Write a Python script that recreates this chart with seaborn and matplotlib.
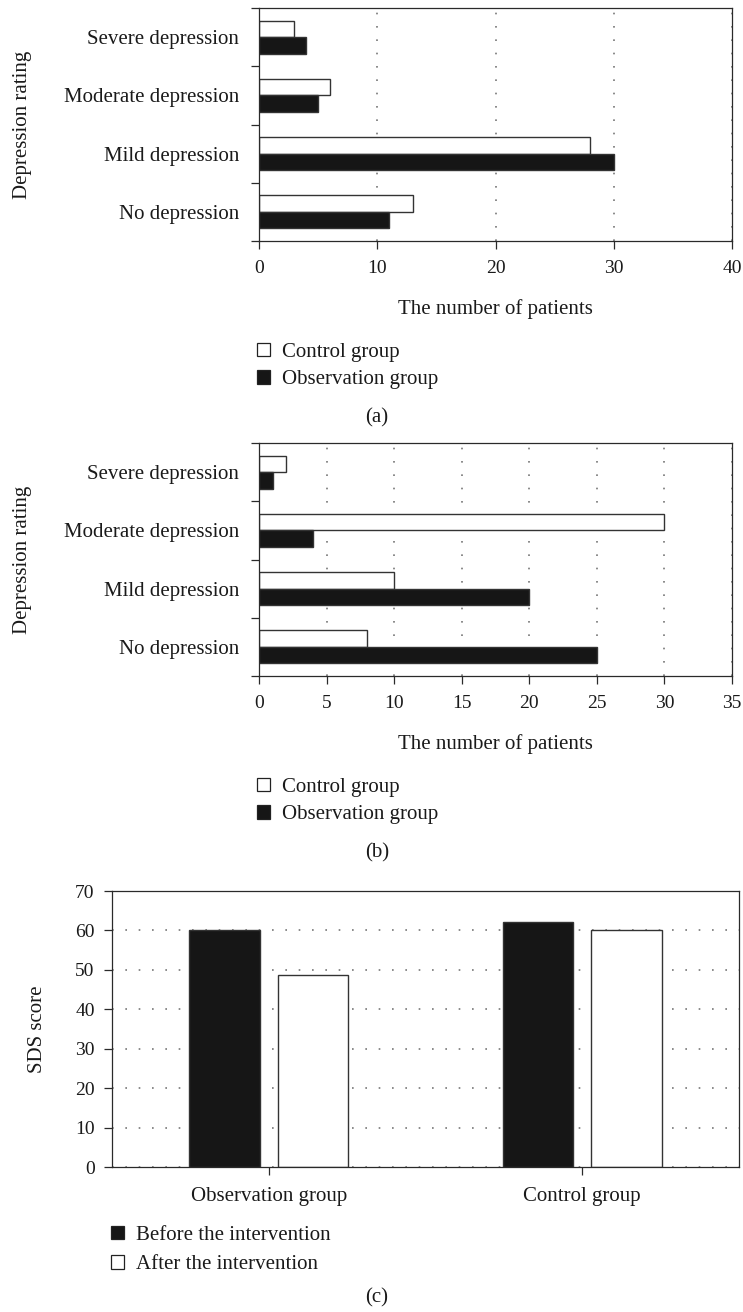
import matplotlib
matplotlib.use('Agg')
import matplotlib.pyplot as plt
from matplotlib.patches import Patch
import pandas as pd
import seaborn as sns

# categories and values
ratings = ['Severe depression', 'Moderate depression', 'Mild depression', 'No depression']
groups = ['Control group', 'Observation group']

a_control = [3, 6, 28, 13]
a_observation = [4, 5, 30, 11]

b_control = [2, 30, 10, 8]
b_observation = [1, 4, 20, 25]

c_groups = ['Observation group', 'Control group']
c_phases = ['Before the intervention', 'After the intervention']
c_before = [60.2, 62.2]
c_after = [48.8, 60.2]

W, H = 743, 1312
BLACK = '#161616'
EDGE = '#333333'
TEXT = '#1a1a1a'
GRID = dict(linestyle=(0, (1, 7)), color='#777777', linewidth=1.2)

sns.set_style('ticks')
plt.rcParams['font.family'] = ['Liberation Serif', 'DejaVu Serif']
plt.rcParams['text.color'] = TEXT
plt.rcParams['xtick.color'] = '#2a2a2a'
plt.rcParams['ytick.color'] = '#2a2a2a'
plt.rcParams['xtick.labelcolor'] = TEXT
plt.rcParams['ytick.labelcolor'] = TEXT


def px_box(left, top, right, bottom):
    return [left / W, 1 - bottom / H, (right - left) / W, (bottom - top) / H]


def fy(y):
    return 1 - y / H


def style_spines(ax):
    for s in ax.spines.values():
        s.set_visible(True)
        s.set_color('#2a2a2a')
        s.set_linewidth(0.9)


def rating_panel(fig, top, control, observation, xmax, xstep, tag):
    df = pd.DataFrame({
        'rating': ratings * 2,
        'group': [groups[0]] * len(ratings) + [groups[1]] * len(ratings),
        'count': control + observation,
    })
    ax = fig.add_axes(px_box(259, top, 732, top + 233))
    sns.barplot(data=df, x='count', y='rating', hue='group', order=ratings,
                hue_order=groups, orient='h', palette=['white', BLACK],
                edgecolor=EDGE, linewidth=1.0, width=0.57, errorbar=None,
                legend=False, ax=ax)
    ax.set_xlim(0, xmax)
    ax.set_xticks(range(0, xmax + 1, xstep))
    ax.set_ylim(3.5, -0.5)
    ax.set_yticks([-0.5, 0.5, 1.5, 2.5, 3.5], minor=True)
    ax.xaxis.grid(True, **GRID)
    ax.set_axisbelow(True)
    ax.tick_params(axis='y', which='major', length=0, pad=14.4, labelsize=15)
    ax.tick_params(axis='y', which='minor', length=6, width=0.9, direction='out')
    ax.tick_params(axis='x', length=6, width=0.9, pad=7.7, labelsize=14)
    ax.set_xlabel('')
    ax.set_ylabel('')
    style_spines(ax)

    fig.text(23 / W, fy(top + 116.5), 'Depression rating', rotation=90,
             ha='center', va='center', fontsize=15)
    fig.text(495.5 / W, fy(top + 306), 'The number of patients',
             ha='center', va='baseline', fontsize=15)
    handles = [Patch(facecolor='white', edgecolor='#222222', linewidth=0.9, label=groups[0]),
               Patch(facecolor=BLACK, edgecolor='#222222', linewidth=0.9, label=groups[1])]
    fig.legend(handles=handles, loc='upper left', bbox_to_anchor=(257 / W, fy(top + 335)),
               frameon=False, fontsize=15, handlelength=0.6, handleheight=0.6,
               handletextpad=0.6, labelspacing=0.4, borderaxespad=0, borderpad=0)
    fig.text(377 / W, fy(top + 414), tag, ha='center', va='baseline', fontsize=15)
    return ax


fig = plt.figure(figsize=(W / 100, H / 100), dpi=100)

rating_panel(fig, 8, a_control, a_observation, 40, 10, '(a)')
rating_panel(fig, 443, b_control, b_observation, 35, 5, '(b)')

# panel (c): SDS score before/after
df_c = pd.DataFrame({
    'group': c_groups * 2,
    'phase': [c_phases[0]] * len(c_groups) + [c_phases[1]] * len(c_groups),
    'score': c_before + c_after,
})
ax = fig.add_axes(px_box(112, 891, 739, 1167))
sns.barplot(data=df_c, x='group', y='score', hue='phase', order=c_groups,
            hue_order=c_phases, palette=[BLACK, 'white'], edgecolor=EDGE,
            linewidth=1.0, width=0.564, gap=0.2, errorbar=None, legend=False, ax=ax)
ax.set_xlim(-0.5, 1.5)
ax.set_ylim(0, 70)
ax.set_yticks(range(0, 71, 10))
ax.yaxis.grid(True, **GRID)
ax.set_axisbelow(True)
ax.tick_params(axis='y', length=6, width=0.9, pad=6.5, labelsize=14)
ax.tick_params(axis='x', length=6, width=0.9, pad=8.5, labelsize=15)
ax.set_xlabel('')
ax.set_ylabel('')
style_spines(ax)

fig.text(37 / W, fy(1029), 'SDS score', rotation=90, ha='center', va='center', fontsize=15)
handles = [Patch(facecolor=BLACK, edgecolor='#222222', linewidth=0.9, label=c_phases[0]),
           Patch(facecolor='white', edgecolor='#222222', linewidth=0.9, label=c_phases[1])]
fig.legend(handles=handles, loc='upper left', bbox_to_anchor=(111 / W, fy(1226)),
           frameon=False, fontsize=15, handlelength=0.6, handleheight=0.6,
           handletextpad=0.6, labelspacing=0.5, borderaxespad=0, borderpad=0)
fig.text(377 / W, fy(1302), '(c)', ha='center', va='baseline', fontsize=15)

fig.savefig('out.png', dpi=100)
